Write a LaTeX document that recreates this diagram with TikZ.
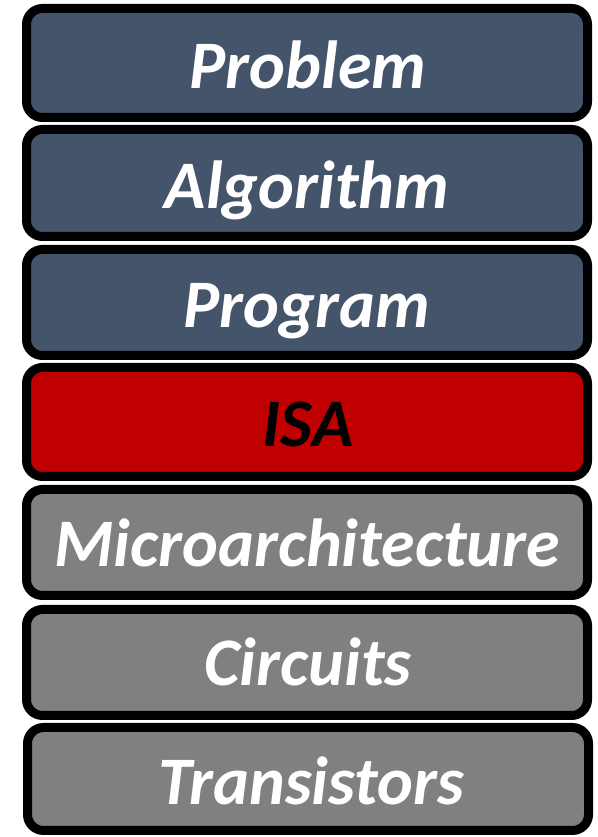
\documentclass[tikz,border=0pt]{standalone}
\usepackage{fontspec}
\setmainfont{Carlito}
\definecolor{slate}{HTML}{44546A}
\definecolor{isared}{HTML}{C00000}
\definecolor{midgray}{HTML}{808080}
\begin{document}
\begin{tikzpicture}[x=1pt,y=1pt,
  layer/.style={draw=black, line width=9pt, rounded corners=16pt},
  lbl/.style={font=\fontsize{68}{72}\selectfont\bfseries\itshape, text=white, inner sep=0pt, anchor=base}]
\useasboundingbox (0,0) rectangle (597,837);
\def\L{26.5}\def\R{587.5}
\path[layer, fill=slate] (\L,837-8.5) rectangle (\R,837-117.5);
\path[layer, fill=slate] (\L,837-129.5) rectangle (\R,837-236.5);
\path[layer, fill=slate] (\L,837-249.5) rectangle (\R,837-355.5);
\path[layer, fill=isared] (\L,837-367.5) rectangle (\R,837-476.5);
\path[layer, fill=midgray] (\L,837-489.5) rectangle (\R,837-595.5);
\path[layer, fill=midgray] (\L,837-609.5) rectangle (\R,837-715.5);
\path[layer, fill=midgray] (\L+1,837-727.5) rectangle (\R+1,837-830.5);
\node[lbl] (p1) at (308,837-89) {Problem};
\node[lbl] (p2) at (307,837-209) {Algorithm};
\node[lbl] (p3) at (307,837-328) {Program};
\node[lbl, text=black] (p4) at (308,837-447) {ISA};
\node[lbl] (p5) at (307,837-567) {Microarchitecture};
\node[lbl] (p6) at (308,837-686) {Circuits};
\node[lbl] (p7) at (311,837-805) {Transistors};
\end{tikzpicture}
\end{document}
